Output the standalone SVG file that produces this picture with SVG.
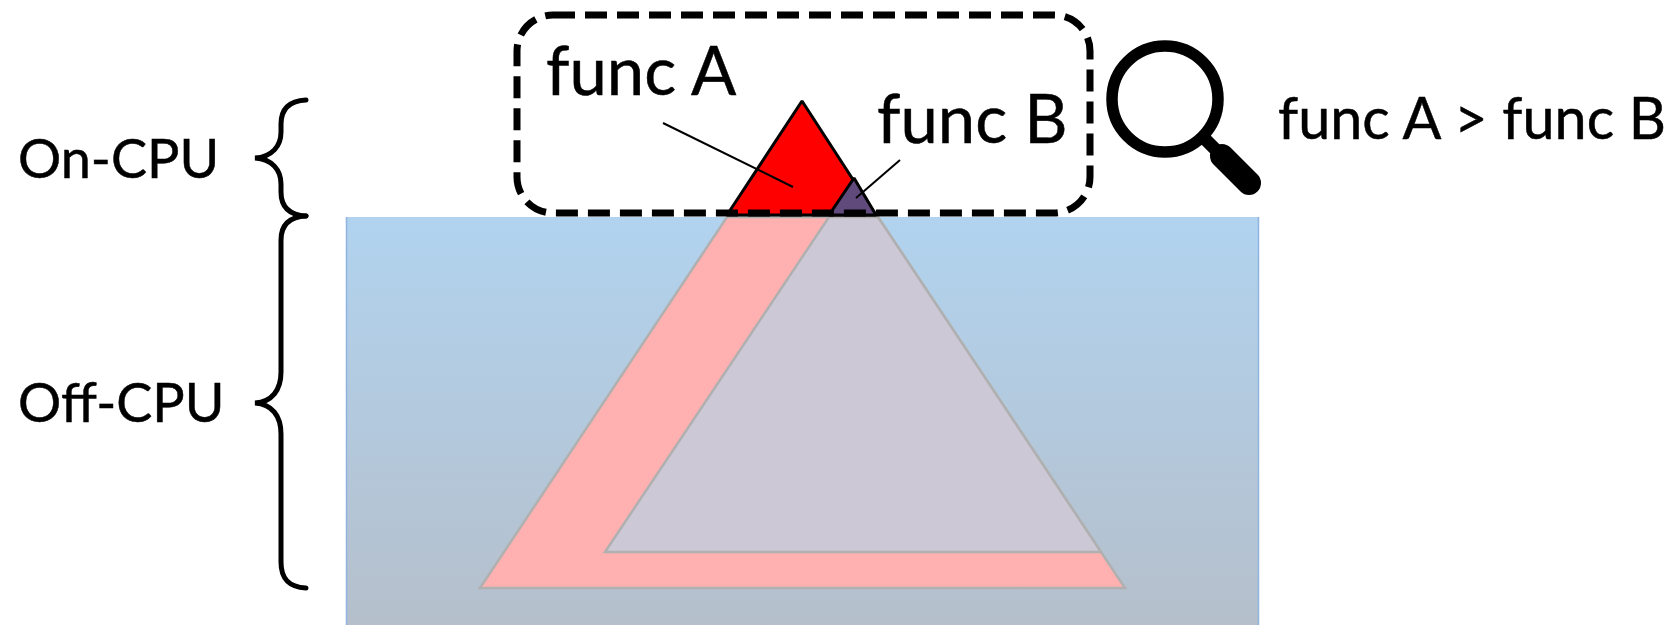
<svg xmlns="http://www.w3.org/2000/svg" width="1675" height="625" viewBox="0 0 1675 625">
<style>
text{font-family:Lato,"Liberation Sans",sans-serif;fill:#000;stroke:#000;stroke-width:.5}
.big{font-size:67px}
.lab{font-size:54px}
.wide{font-size:57.5px}
.brace{fill:none;stroke:#000;stroke-width:5;stroke-linecap:round}
.ghost{stroke:#b0b0b0;stroke-width:2.5;stroke-linejoin:miter}
.top{stroke:#000;stroke-width:3;stroke-linejoin:bevel}
.leader{stroke:#000;stroke-width:2;fill:none}
</style>
<defs><linearGradient id="bg" x1="0" y1="0" x2="0" y2="1"><stop offset="0" stop-color="#b1d3ef"/><stop offset="1" stop-color="#b5bfcb"/></linearGradient></defs>
<rect width="1675" height="625" fill="#fff"/>
<g id="off-cpu-area"><rect x="346.500" y="217" width="912" height="410" fill="url(#bg)"/><path d="M346.500,217V625M1258.500,217V625" fill="none" stroke="#8fb4e0" stroke-width="1.500"/></g>
<g id="func-a-off"><polygon class="ghost" points="727,217 878,217 1125,588 480,588" fill="#ffb0b0"/></g>
<g id="func-b-off"><polygon class="ghost" points="829,217 878,217 1101,552 605,552" fill="#cdc8d6"/></g>
<g id="func-a-on"><polygon class="top" points="802,101 876,215 727,215" fill="#ff0000"/></g>
<g id="func-b-on"><polygon class="top" points="854,178 876,215 829,215" fill="#604a7b"/></g>
<g id="connectors">
<line class="leader" x1="663" y1="123" x2="793" y2="187"/>
<line class="leader" x1="900" y1="160" x2="856" y2="198"/>
</g>
<g id="focus-box"><rect x="517" y="15" width="573" height="198" rx="36" ry="36" fill="none" stroke="#000" stroke-width="7" stroke-dasharray="22 10"/></g>
<g id="magnifier">
<circle cx="1165" cy="99" r="53" fill="none" stroke="#000" stroke-width="11.5"/>
<line x1="1205" y1="139" x2="1225" y2="159" stroke="#000" stroke-width="13"/>
<line x1="1222" y1="156" x2="1249" y2="183" stroke="#000" stroke-width="24" stroke-linecap="round"/>
</g>
<g id="on-cpu-brace"><path class="brace" d="M306,100 C288,101 281,110 281,124 V132 C281,146 272,157 255,158 C272,159 281,170 281,184 V192 C281,206 288,215 306,216"/></g>
<g id="off-cpu-brace"><path class="brace" d="M306,216 C288,217 281,226 281,240 V372 C281,390 272,402 255,403 C272,404 281,416 281,434 V562 C281,578 288,587 306,588"/></g>
<g id="labels">
<text class="lab" x="18" y="178">On-CPU</text>
<text class="lab" x="18" y="422">Off-CPU</text>
<text class="big" x="546" y="95">func A</text>
<text class="big" x="877" y="143">func B</text>
<text class="wide" x="1278" y="139">func A &gt; func B</text>
</g>
</svg>
